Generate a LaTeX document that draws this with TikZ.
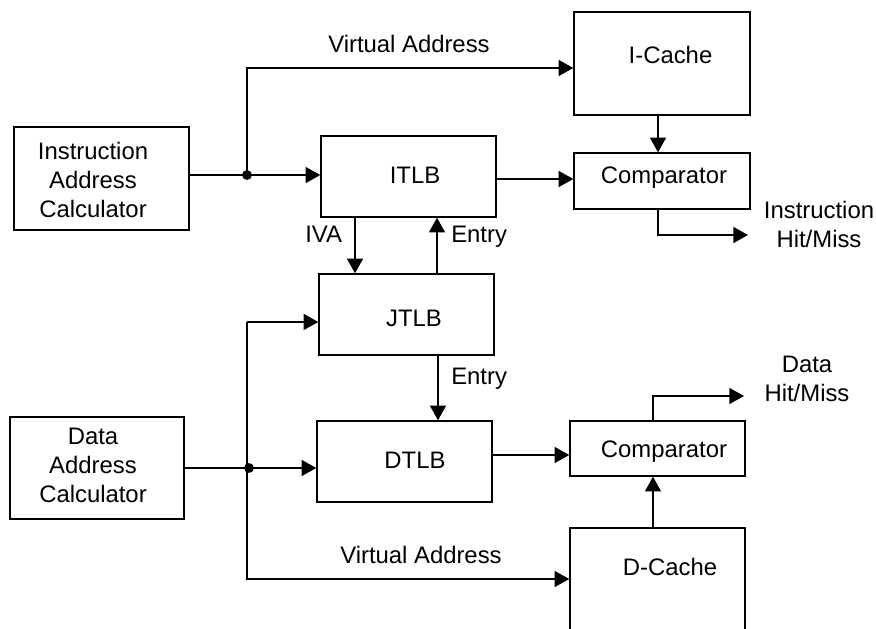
\documentclass[tikz,border=0pt]{standalone}
\usepackage{fontspec}
\setmainfont{Liberation Sans}
\usetikzlibrary{arrows.meta,calc}
\begin{document}
\begin{tikzpicture}[x=0.75pt,y=-0.75pt,
  box/.style={draw, line width=1.1pt, inner sep=0pt},
  wire/.style={line width=1.1pt},
  arr/.style={wire, -{Triangle[length=11pt,width=12pt]}},
  txt/.style={font=\fontsize{17.9}{22.1}\selectfont, inner sep=0pt, anchor=base},
  mtxt/.style={txt, align=center, text width=120pt}
]
\clip (0,0) rectangle (876,629);
\fill[white] (0,0) rectangle (876,629);

% boxes
\node[box, minimum width=131.25pt, minimum height=77.25pt] (iac) at (101.5,178.5) {};
\node[box, minimum width=130.5pt, minimum height=76.5pt] (dac) at (97,468) {};
\node[box, minimum width=131.25pt, minimum height=60.75pt] (itlb) at (408.5,176.5) {};
\node[box, minimum width=131.25pt, minimum height=60.75pt] (jtlb) at (406.5,314.5) {};
\node[box, minimum width=131.25pt, minimum height=60.75pt] (dtlb) at (404.5,461.5) {};
\node[box, minimum width=132pt, minimum height=77.25pt] (icache) at (662,63.5) {};
\node[box, minimum width=132pt, minimum height=42pt] (comp1) at (662,181) {};
\node[box, minimum width=131.25pt, minimum height=41.25pt] (comp2) at (657.5,448.5) {};
\node[box, minimum width=131.25pt, minimum height=105pt] (dcache) at (657.5,598) {};

% box texts
\node[mtxt] (iact) at (93,159) {Instruction\\Address\\Calculator};
\node[mtxt] (dact) at (93,444) {Data\\Address\\Calculator};
\node[txt] (itlbt) at (415,183) {ITLB};
\node[txt] (jtlbt) at (414,326) {JTLB};
\node[txt] (dtlbt) at (415,468) {DTLB};
\node[txt] (icachet) at (670.5,63) {I-Cache};
\node[txt] (dcachet) at (670,575) {D-Cache};
\node[txt] (comp1t) at (664,183) {Comparator};
\node[txt] (comp2t) at (664,457) {Comparator};

% free labels
\node[txt, anchor=base west] (va1) at (328,52) {Virtual Address};
\node[txt, anchor=base west] (va2) at (340,563) {Virtual Address};
\node[txt, anchor=base west] (iva) at (305,242) {IVA};
\node[txt, anchor=base west] (entry1) at (451,242) {Entry};
\node[txt, anchor=base west] (entry2) at (451,384) {Entry};
\node[mtxt] (ihit) at (819,218) {Instruction\\Hit/Miss};
\node[mtxt] (dhit) at (807,372) {Data\\Hit/Miss};

% coordinates
\coordinate (j1) at (247,175);
\coordinate (vaup) at (247,68);
\coordinate (j2) at (247,468);
\coordinate (vtop) at (247,322);
\coordinate (vbot) at (247,579);
\coordinate (hit1) at (748,235);
\coordinate (hit2) at (744,396);

% instruction side
\draw[wire] (iac.east |- j1) -- (j1);
\draw[arr] (j1) -- (j1 -| itlb.west);
\draw[arr] (j1) -- (vaup) -- (vaup -| icache.west);
\fill (j1) circle[radius=3.7pt];
\draw[arr] (itlb.east |- 0,179) -- (comp1.west |- 0,179);
\draw[arr] (658,0 |- icache.south) -- (658,0 |- comp1.north);
\draw[arr] (658,0 |- comp1.south) |- (hit1);
\draw[arr] (355,0 |- itlb.south) -- (355,0 |- jtlb.north);
\draw[arr] (437,0 |- jtlb.north) -- (437,0 |- itlb.south);

% data side
\draw[wire] (dac.east |- j2) -- (j2);
\draw[arr] (j2) -- (j2 -| dtlb.west);
\draw[arr] (vtop) -- (vtop -| jtlb.west);
\draw[arr] (vtop) -- (vbot) -- (vbot -| dcache.west);
\fill (249,468) circle[radius=3.7pt];
\draw[arr] (438,0 |- jtlb.south) -- (438,0 |- dtlb.north);
\draw[arr] (dtlb.east |- 0,455) -- (comp2.west |- 0,455);
\draw[arr] (653,0 |- comp2.north) |- (hit2);
\draw[arr] (653,0 |- dcache.north) -- (653,0 |- comp2.south);
\end{tikzpicture}
\end{document}
